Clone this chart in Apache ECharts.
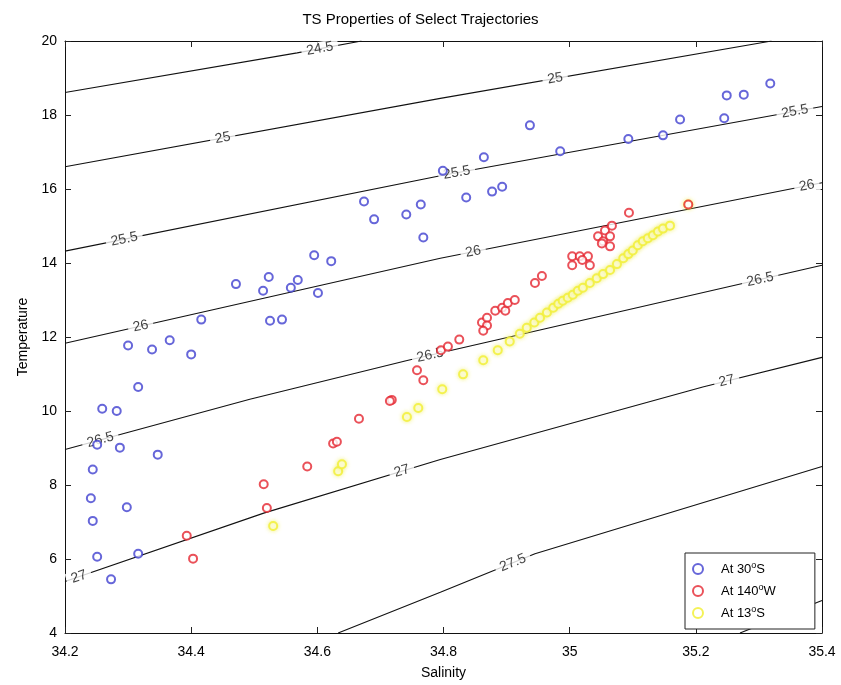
<!DOCTYPE html>
<html>
<head>
<meta charset="utf-8">
<title>TS Properties of Select Trajectories</title>
<script src="https://cdn.jsdelivr.net/npm/echarts@6/dist/echarts.min.js"></script>
<style>
  html, body { margin: 0; padding: 0; background: #fff; }
  #chart { width: 841px; height: 685px; }
</style>
</head>
<body>
<div id="chart"></div>
<script>
// Axis ranges (salinity, temperature)
const salinityRange = [34.2, 35.4];
const salinityStep = 0.2;
const temperatureRange = [4, 20];
const temperatureStep = 2;

// Trajectory samples: [salinity, temperature]
const at30S = [
  [35.318,18.85],[35.276,18.55],[35.249,18.53],[35.175,17.88],[35.245,17.91],[35.148,17.45],
  [35.093,17.35],[34.937,17.72],[34.985,17.02],[34.864,16.86],[34.799,16.49],[34.836,15.77],
  [34.877,15.93],[34.893,16.06],[34.674,15.66],[34.690,15.18],[34.741,15.31],[34.764,15.58],
  [34.768,14.69],[34.595,14.21],[34.622,14.05],[34.523,13.62],[34.569,13.54],[34.558,13.33],
  [34.514,13.25],[34.601,13.19],[34.525,12.44],[34.544,12.47],[34.471,13.43],[34.416,12.47],
  [34.366,11.91],[34.338,11.66],[34.300,11.77],[34.400,11.53],[34.316,10.65],[34.259,10.06],
  [34.282,10.00],[34.287,9.01],[34.251,9.09],[34.347,8.82],[34.244,8.42],[34.241,7.64],
  [34.298,7.40],[34.244,7.03],[34.251,6.06],[34.316,6.14],[34.273,5.45]
];
const at140W = [
  [34.393,6.63],[34.403,6.01],[34.515,8.02],[34.520,7.38],[34.584,8.50],[34.625,9.12],
  [34.631,9.17],[34.666,9.79],[34.718,10.30],[34.715,10.27],[34.758,11.10],[34.768,10.83],
  [34.796,11.64],[34.807,11.74],[34.825,11.93],[34.861,12.39],[34.869,12.52],[34.869,12.31],
  [34.863,12.17],[34.882,12.71],[34.893,12.79],[34.898,12.71],[34.902,12.92],[34.913,13.00],
  [34.945,13.46],[34.956,13.65],[35.004,14.18],[35.016,14.18],[35.029,14.18],[35.004,13.94],
  [35.032,13.94],[35.020,14.08],[35.045,14.72],[35.056,14.88],[35.067,15.01],[35.064,14.72],
  [35.053,14.59],[35.064,14.45],[35.051,14.53],[35.094,15.36],[35.188,15.58]
];
const at13S = [
  [34.530,6.89],[34.633,8.37],[34.639,8.56],[34.742,9.84],[34.760,10.08],[34.798,10.59],
  [34.831,10.99],[34.863,11.37],[34.886,11.64],[34.905,11.88],[34.921,12.09],[34.932,12.25],
  [34.944,12.39],[34.953,12.52],[34.964,12.66],[34.974,12.79],[34.982,12.90],[34.989,12.98],
  [34.997,13.06],[35.005,13.14],[35.013,13.25],[35.021,13.33],[35.032,13.46],[35.043,13.59],
  [35.053,13.70],[35.064,13.81],[35.075,13.97],[35.085,14.13],[35.093,14.24],[35.100,14.34],
  [35.108,14.48],[35.116,14.59],[35.124,14.67],[35.132,14.75],[35.140,14.85],[35.148,14.93],
  [35.159,15.01],[35.188,15.58]
];

// Isopycnals (sigma-theta), traced as [salinity, temperature] vertices
const sigma245 = [[34.2,18.61],[34.568,19.68],[34.67,20]];
const sigma250 = [[34.2,16.60],[34.795,18.45],[35.32,20]];
const sigma255 = [[34.2,14.32],[34.795,16.36],[35.4,18.23]];
const sigma260 = [[34.2,11.83],[34.795,14.13],[35.4,16.17]];
const sigma265 = [[34.2,8.96],[34.493,10.32],[34.744,11.37],[35.4,13.94]];
const sigma270 = [[34.2,5.39],[34.515,7.24],[34.795,8.69],[35.211,10.65],[35.4,11.45]];
const sigma275 = [[34.633,4],[34.795,5.10],[34.945,6.14],[35.4,8.50]];
const sigma280 = [[35.27,4],[35.4,4.88]];

const isopycnals = [
  { level: '24.5', line: sigma245, labelAt: [34.604] },
  { level: '25',   line: sigma250, labelAt: [34.45, 34.977] },
  { level: '25.5', line: sigma255, labelAt: [34.294, 34.821, 35.357] },
  { level: '26',   line: sigma260, labelAt: [34.32, 34.847, 35.376] },
  { level: '26.5', line: sigma265, labelAt: [34.256, 34.779, 35.302] },
  { level: '27',   line: sigma270, labelAt: [34.222, 34.734, 35.249] },
  { level: '27.5', line: sigma275, labelAt: [34.910] },
  { level: '28',   line: sigma280, labelAt: [] }
];

// Temperature on a traced isopycnal at a given salinity
function tempOnLine(line, s) {
  for (let i = 0; i < line.length - 1; i++) {
    const a = line[i], b = line[i + 1];
    if (s >= a[0] && s <= b[0]) {
      return a[1] + (b[1] - a[1]) * (s - a[0]) / (b[0] - a[0]);
    }
  }
  const a = line[line.length - 2], b = line[line.length - 1];
  return a[1] + (b[1] - a[1]) * (s - a[0]) / (b[0] - a[0]);
}

const FONT = "'Liberation Sans', Arial, Helvetica, sans-serif";
const chart = echarts.init(document.getElementById('chart'), null, { renderer: 'canvas' });

function labelItems(rotations) {
  const items = [];
  let k = 0;
  isopycnals.forEach(iso => {
    iso.labelAt.forEach(s => {
      items.push({
        value: [s, tempOnLine(iso.line, s)],
        name: iso.level,
        label: { rotate: rotations ? rotations[k] : 0 }
      });
      k++;
    });
  });
  return items;
}

const tickStyle = { show: true, inside: true, length: 6, lineStyle: { color: '#222', width: 1 } };
const lineStyleAxis = { show: true, lineStyle: { color: '#111', width: 1 } };

const series = [];
isopycnals.forEach(iso => {
  series.push({
    type: 'line',
    name: 'sigma ' + iso.level,
    data: iso.line,
    showSymbol: false,
    symbol: 'none',
    silent: true,
    z: 1,
    lineStyle: { color: '#111', width: 1.1 },
    clip: true
  });
});
series.push({
  type: 'scatter',
  name: 'isopycnal labels',
  data: labelItems(null),
  symbolSize: 1,
  silent: true,
  z: 2,
  itemStyle: { color: 'rgba(0,0,0,0)' },
  label: {
    show: true,
    position: 'inside',
    formatter: p => p.name,
    color: '#111',
    fontFamily: FONT,
    fontSize: 14,
    backgroundColor: '#ffffff',
    padding: [0, 5]
  },
  labelLayout: { hideOverlap: false }
});

const markerBase = { type: 'scatter', symbol: 'emptyCircle', symbolSize: 8, z: 3 };
series.push(Object.assign({}, markerBase, {
  name: 'At 13°S', data: at13S, z: 3,
  itemStyle: {
    color: '#f2f03a', borderColor: '#f2f03a', borderWidth: 2, opacity: 0.85,
    shadowBlur: 4, shadowColor: 'rgba(240,238,70,0.7)'
  }
}));
series.push(Object.assign({}, markerBase, {
  name: 'At 140°W', data: at140W, z: 4,
  itemStyle: { color: '#e5262f', borderColor: '#e5262f', borderWidth: 1.1 }
}));
series.push(Object.assign({}, markerBase, {
  name: 'At 30°S', data: at30S, z: 5,
  itemStyle: { color: '#4040cf', borderColor: '#4040cf', borderWidth: 1.1 }
}));

const option = {
  backgroundColor: '#ffffff',
  animation: false,
  title: {
    text: 'TS Properties of Select Trajectories',
    left: 'center',
    top: 7,
    textStyle: { fontFamily: FONT, fontSize: 15, fontWeight: 'normal', color: '#000' }
  },
  grid: { left: 65, top: 41, width: 757, height: 597, containLabel: false },
  legend: {
    data: ['At 30°S', 'At 140°W', 'At 13°S'],
    orient: 'vertical',
    left: 685,
    top: 553,
    padding: [8, 39, 8, 7],
    itemWidth: 36,
    itemHeight: 10,
    itemGap: 6,
    selectedMode: false,
    backgroundColor: '#ffffff',
    borderColor: '#222',
    borderWidth: 1,
    borderRadius: 0,
    z: 10,
    formatter: name => {
      const parts = name.split('°');
      return '{t|' + parts[0] + '}{s|o}{t|' + parts[1] + '}';
    },
    textStyle: {
      fontFamily: FONT,
      color: '#000',
      rich: {
        t: { fontFamily: FONT, fontSize: 13, color: '#000', lineHeight: 17 },
        s: { fontFamily: FONT, fontSize: 9, color: '#000', padding: [0, 0, 7, 0], lineHeight: 10 }
      }
    }
  },
  xAxis: [
    {
      type: 'value', min: salinityRange[0], max: salinityRange[1], interval: salinityStep,
      name: 'Salinity', nameLocation: 'middle', nameGap: 33,
      nameTextStyle: { fontFamily: FONT, fontSize: 14, color: '#000' },
      axisLine: lineStyleAxis, axisTick: tickStyle,
      axisLabel: { fontFamily: FONT, fontSize: 14, color: '#000', margin: 12 },
      splitLine: { show: false }
    },
    {
      type: 'value', position: 'top', min: salinityRange[0], max: salinityRange[1], interval: salinityStep,
      axisLine: lineStyleAxis, axisTick: tickStyle, axisLabel: { show: false }, splitLine: { show: false }
    }
  ],
  yAxis: [
    {
      type: 'value', min: temperatureRange[0], max: temperatureRange[1], interval: temperatureStep,
      name: 'Temperature', nameLocation: 'middle', nameGap: 22, nameRotate: 90,
      nameTextStyle: { fontFamily: FONT, fontSize: 14, color: '#000' },
      axisLine: lineStyleAxis, axisTick: tickStyle,
      axisLabel: { fontFamily: FONT, fontSize: 14, color: '#000', margin: 8 },
      splitLine: { show: false }
    },
    {
      type: 'value', position: 'right', min: temperatureRange[0], max: temperatureRange[1], interval: temperatureStep,
      axisLine: lineStyleAxis, axisTick: tickStyle, axisLabel: { show: false }, splitLine: { show: false }
    }
  ],
  series: series
};

chart.setOption(option);

// Align each contour label with the local direction of its isopycnal on screen
const rotations = [];
isopycnals.forEach(iso => {
  iso.labelAt.forEach(s => {
    const d = 0.02;
    const p1 = chart.convertToPixel({ gridIndex: 0 }, [s - d, tempOnLine(iso.line, s - d)]);
    const p2 = chart.convertToPixel({ gridIndex: 0 }, [s + d, tempOnLine(iso.line, s + d)]);
    rotations.push(-Math.atan2(p2[1] - p1[1], p2[0] - p1[0]) * 180 / Math.PI);
  });
});
const labelSeriesIndex = isopycnals.length;
const updated = series.map((sr, i) => i === labelSeriesIndex ? { data: labelItems(rotations) } : {});
chart.setOption({ series: updated });
</script>
</body>
</html>
